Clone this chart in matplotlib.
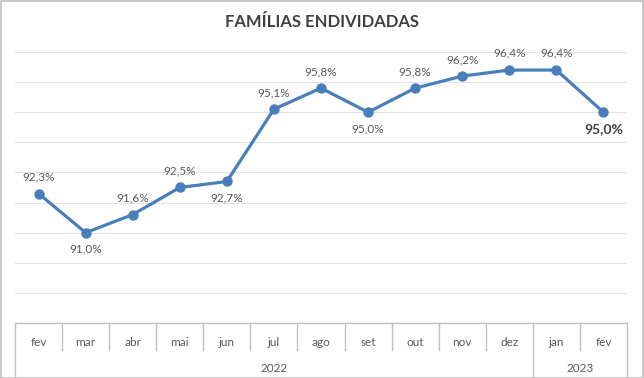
import matplotlib
matplotlib.use("Agg")
import matplotlib.pyplot as plt
from matplotlib.patches import Rectangle
from matplotlib.lines import Line2D

months = ["fev", "mar", "abr", "mai", "jun", "jul", "ago", "set", "out", "nov", "dez", "jan", "fev"]
years = ["2022", "2023"]
year_counts = [11, 2]
values = [92.3, 91.0, 91.6, 92.5, 92.7, 95.1, 95.8, 95.0, 95.8, 96.2, 96.4, 96.4, 95.0]
label_pos = ["above", "below", "above", "above", "below", "above", "above", "below",
             "above", "above", "above", "above", "below"]

plt.rcParams['font.family'] = ['Lato', 'DejaVu Sans']
W, H = 644, 378
fig = plt.figure(figsize=(W / 100, H / 100), dpi=100)
txt = "#595959"
grid = "#e3e3e3"
tbl = "#bfbfbf"
blue = "#4A7EBB"

# figure border
fig.patches.append(Rectangle((0.5 / W, 0.5 / H), 1 - 1.5 / W, 1 - 1.5 / H, transform=fig.transFigure,
                             fill=False, edgecolor="#bfbfbf", lw=1.2))

left, right, top, bottom = 15, 627, 52, 323
ax = fig.add_axes([left / W, (H - bottom) / H, (right - left) / W, (bottom - top) / H])
n = len(months)
x = list(range(n))
ax.set_xlim(-0.5, n - 0.5)
ax.set_ylim(88, 97)
ax.set_yticks(range(88, 98))
ax.yaxis.grid(True, color=grid, lw=0.8)
ax.set_axisbelow(True)
ax.tick_params(left=False, labelleft=False, bottom=False, labelbottom=False)
for s in ax.spines.values():
    s.set_visible(False)

ax.plot(x, values, color=blue, lw=2.3, marker="o", markersize=6.5, solid_joinstyle="round")

for i, (v, p) in enumerate(zip(values, label_pos)):
    last = i == n - 1
    off = 12 if p == "above" else -12
    ax.annotate(f"{v:.1f}%".replace(".", ","), (i, v), xytext=(0, off), textcoords="offset points",
                ha="center", va="center", color=("#404040" if last else txt),
                fontsize=(10 if last else 8.5), fontweight=("bold" if last else "normal"))

fig.text(0.5, (H - 22) / H, "FAMÍLIAS ENDIVIDADAS", ha="center", va="center",
         fontsize=12, fontweight="bold", color="#404040")

# category table
def fx(px):
    return px / W
def fy(py):
    return (H - py) / H

cw = (right - left) / n
lines = []
lines.append(Line2D([fx(left), fx(right)], [fy(bottom), fy(bottom)]))
lines.append(Line2D([fx(left), fx(left)], [fy(bottom), fy(H)]))
lines.append(Line2D([fx(right), fx(right)], [fy(bottom), fy(H)]))
for i in range(1, n):
    lines.append(Line2D([fx(left + i * cw), fx(left + i * cw)], [fy(bottom), fy(350)]))
acc = 0
for k, c in enumerate(year_counts):
    if k > 0:
        lines.append(Line2D([fx(left + acc * cw), fx(left + acc * cw)], [fy(350), fy(H)]))
    acc += c
for ln in lines:
    ln.set_color(tbl)
    ln.set_linewidth(1.0)
    ln.set_transform(fig.transFigure)
    fig.lines.append(ln)

for i, m in enumerate(months):
    fig.text(fx(left + (i + 0.5) * cw), fy(342), m, ha="center", va="center", fontsize=8.5, color=txt)
acc = 0
for yname, c in zip(years, year_counts):
    fig.text(fx(left + (acc + c / 2) * cw), fy(368), yname, ha="center", va="center", fontsize=8.5, color=txt)
    acc += c

fig.savefig("out.png", dpi=100)
